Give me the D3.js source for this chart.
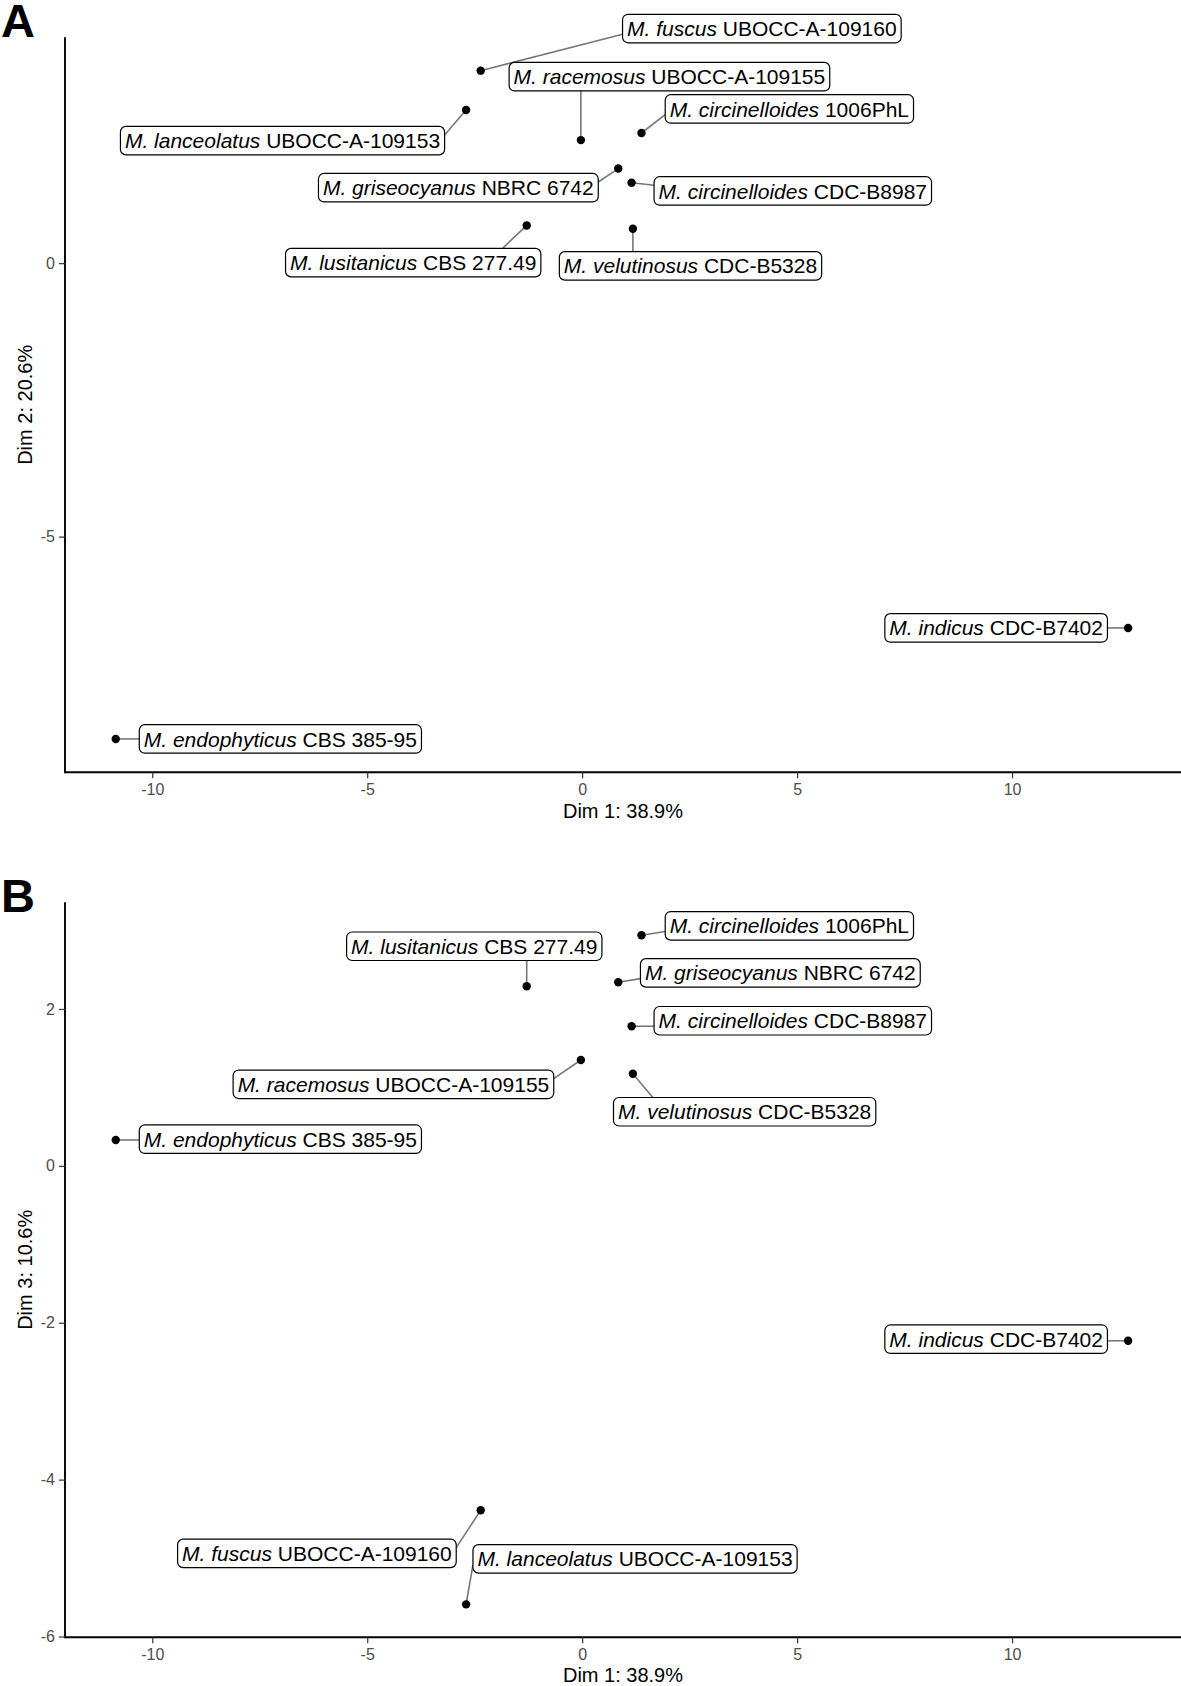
<!DOCTYPE html>
<html>
<head>
<meta charset="utf-8">
<script src="https://cdn.jsdelivr.net/npm/d3@7/dist/d3.min.js"></script>
<style>
  html, body { margin: 0; padding: 0; background: #fff; }
  svg { display: block; font-family: "Liberation Sans", Arial, Helvetica, sans-serif; }
</style>
</head>
<body>
<svg id="chart" width="1181" height="1686"></svg>
<script>
// ---------------- DATA ----------------
const speciesNames = ["M. fuscus", "M. lanceolatus", "M. racemosus", "M. circinelloides",
  "M. griseocyanus", "M. circinelloides", "M. lusitanicus", "M. velutinosus",
  "M. indicus", "M. endophyticus"];
const strainNames = ["UBOCC-A-109160", "UBOCC-A-109153", "UBOCC-A-109155", "1006PhL",
  "NBRC 6742", "CDC-B8987", "CBS 277.49", "CDC-B5328", "CDC-B7402", "CBS 385-95"];
const dim1 = [-2.36, -2.70, -0.03, 1.38, 0.84, 1.15, -1.29, 1.18, 12.70, -10.85];
const dim2 = [3.52, 2.80, 2.25, 2.38, 1.73, 1.47, 0.69, 0.63, -6.67, -8.70];
const dim3 = [-4.39, -5.59, 1.35, 2.94, 2.34, 1.78, 2.29, 1.175, -2.23, 0.33];

// repelled label centres (data units), panel A (Dim1 x Dim2) and panel B (Dim1 x Dim3)
const labelAx = [4.18, -6.97, 2.03, 4.82, -2.88, 4.90, -3.93, 2.52, 9.63, -7.02];
const labelAy = [4.29, 2.24, 3.41, 2.82, 1.38, 1.32, 0.01, -0.05, -6.67, -8.70];
const labelBx = [-6.17, 1.23, -4.39, 4.82, 4.61, 4.90, -2.51, 3.78, 9.63, -7.02];
const labelBy = [-4.94, -5.01, 1.04, 3.06, 2.46, 1.85, 2.80, 0.69, -2.21, 0.34];

const xTicks = [-10, -5, 0, 5, 10];
const yTicksA = [-5, 0];
const yTicksB = [-6, -4, -2, 0, 2];
const xDomain = [-12.03, 13.93];
const yDomainA = [-9.31, 4.13];
const yDomainB = [-6.01, 3.36];
const xTitle = "Dim 1: 38.9%";
const yTitleA = "Dim 2: 20.6%";
const yTitleB = "Dim 3: 10.6%";

// ---------------- DRAW ----------------
const svg = d3.select("#chart");
const LABEL_FONT = 21;
const fmt = d => String(d);   // plain hyphen-minus, as in the reference

function panel(opts) {
  const { letter, letterBaseline, top, bottom, yDomain, yTicks, yVals, lx, ly, yTitle, xTitleY } = opts;
  const left = 65, right = 1181;
  const x = d3.scaleLinear().domain(xDomain).range([left, right]);
  const y = d3.scaleLinear().domain(yDomain).range([bottom, top]);
  const g = svg.append("g");

  // panel letter
  svg.append("text").attr("x", 1).attr("y", letterBaseline)
    .attr("font-size", 47).attr("font-weight", "bold").attr("fill", "#000").text(letter);

  // axes
  const xAxis = g.append("g").attr("transform", `translate(0,${bottom})`)
    .call(d3.axisBottom(x).tickValues(xTicks).tickSizeOuter(0).tickSizeInner(6).tickPadding(5).tickFormat(fmt));
  const yAxis = g.append("g").attr("transform", `translate(${left},0)`)
    .call(d3.axisLeft(y).tickValues(yTicks).tickSizeOuter(0).tickSizeInner(6).tickPadding(4).tickFormat(fmt));
  [xAxis, yAxis].forEach(a => {
    a.select(".domain").attr("stroke", "#000").attr("stroke-width", 1.9);
    a.selectAll(".tick line").attr("stroke", "#333").attr("stroke-width", 1.2);
    a.selectAll(".tick text").attr("fill", "#4d4d4d").attr("font-size", 16)
      .attr("font-family", "'Liberation Sans', Arial, sans-serif");
  });
  xAxis.select(".domain").attr("d", `M${left},0H${right}`);
  yAxis.select(".domain").attr("d", `M0,${top}V${bottom + 1}`);

  // axis titles
  g.append("text").attr("x", (left + right) / 2).attr("y", xTitleY)
    .attr("text-anchor", "middle").attr("font-size", 20).attr("fill", "#000").text(xTitle);
  g.append("text").attr("transform", `translate(32,${(top + bottom) / 2}) rotate(-90)`)
    .attr("text-anchor", "middle").attr("font-size", 20).attr("fill", "#000").text(yTitle);

  const segLayer = g.append("g");
  const ptLayer = g.append("g");
  const lblLayer = g.append("g");

  dim1.forEach((d1, i) => {
    const px = x(d1), py = y(yVals[i]);
    const cx = x(lx[i]), cy = y(ly[i]);

    const lg = lblLayer.append("g");
    const rect = lg.append("rect");
    const t = lg.append("text").attr("font-size", LABEL_FONT).attr("fill", "#000")
      .attr("x", cx).attr("y", cy + LABEL_FONT * 0.36).attr("text-anchor", "middle");
    t.append("tspan").attr("font-style", "italic").text(speciesNames[i]);
    t.append("tspan").text(" " + strainNames[i]);
    const tw = t.node().getComputedTextLength();
    const w = tw + 9, h = 28.5;
    const x1 = cx - w / 2, x2 = cx + w / 2, y1 = cy - h / 2, y2 = cy + h / 2;
    rect.attr("x", x1).attr("y", y1).attr("width", w).attr("height", h)
      .attr("rx", 5.5).attr("ry", 5.5).attr("fill", "#fff").attr("stroke", "#000").attr("stroke-width", 1.2);

    let ex, ey;
    if (px < x1 || px > x2) {
      ex = px < x1 ? x1 : x2;
      ey = Math.max(y1 + 0.3 * h, Math.min(y2 - 0.3 * h, py));
    } else {
      ey = py < y1 ? y1 : y2;
      ex = Math.max(x1 + 0.15 * w, Math.min(x2 - 0.15 * w, px));
    }
    segLayer.append("line").attr("x1", px).attr("y1", py).attr("x2", ex).attr("y2", ey)
      .attr("stroke", "#777").attr("stroke-width", 1.6);

    ptLayer.append("circle").attr("cx", px).attr("cy", py).attr("r", 4.2).attr("fill", "#000");
  });
}

panel({ letter: "A", letterBaseline: 37, top: 37.3, bottom: 772.3, yDomain: yDomainA,
  yTicks: yTicksA, yVals: dim2, lx: labelAx, ly: labelAy, yTitle: yTitleA, xTitleY: 818 });
panel({ letter: "B", letterBaseline: 911.5, top: 902.3, bottom: 1637.3, yDomain: yDomainB,
  yTicks: yTicksB, yVals: dim3, lx: labelBx, ly: labelBy, yTitle: yTitleB, xTitleY: 1682 });
</script>
</body>
</html>
